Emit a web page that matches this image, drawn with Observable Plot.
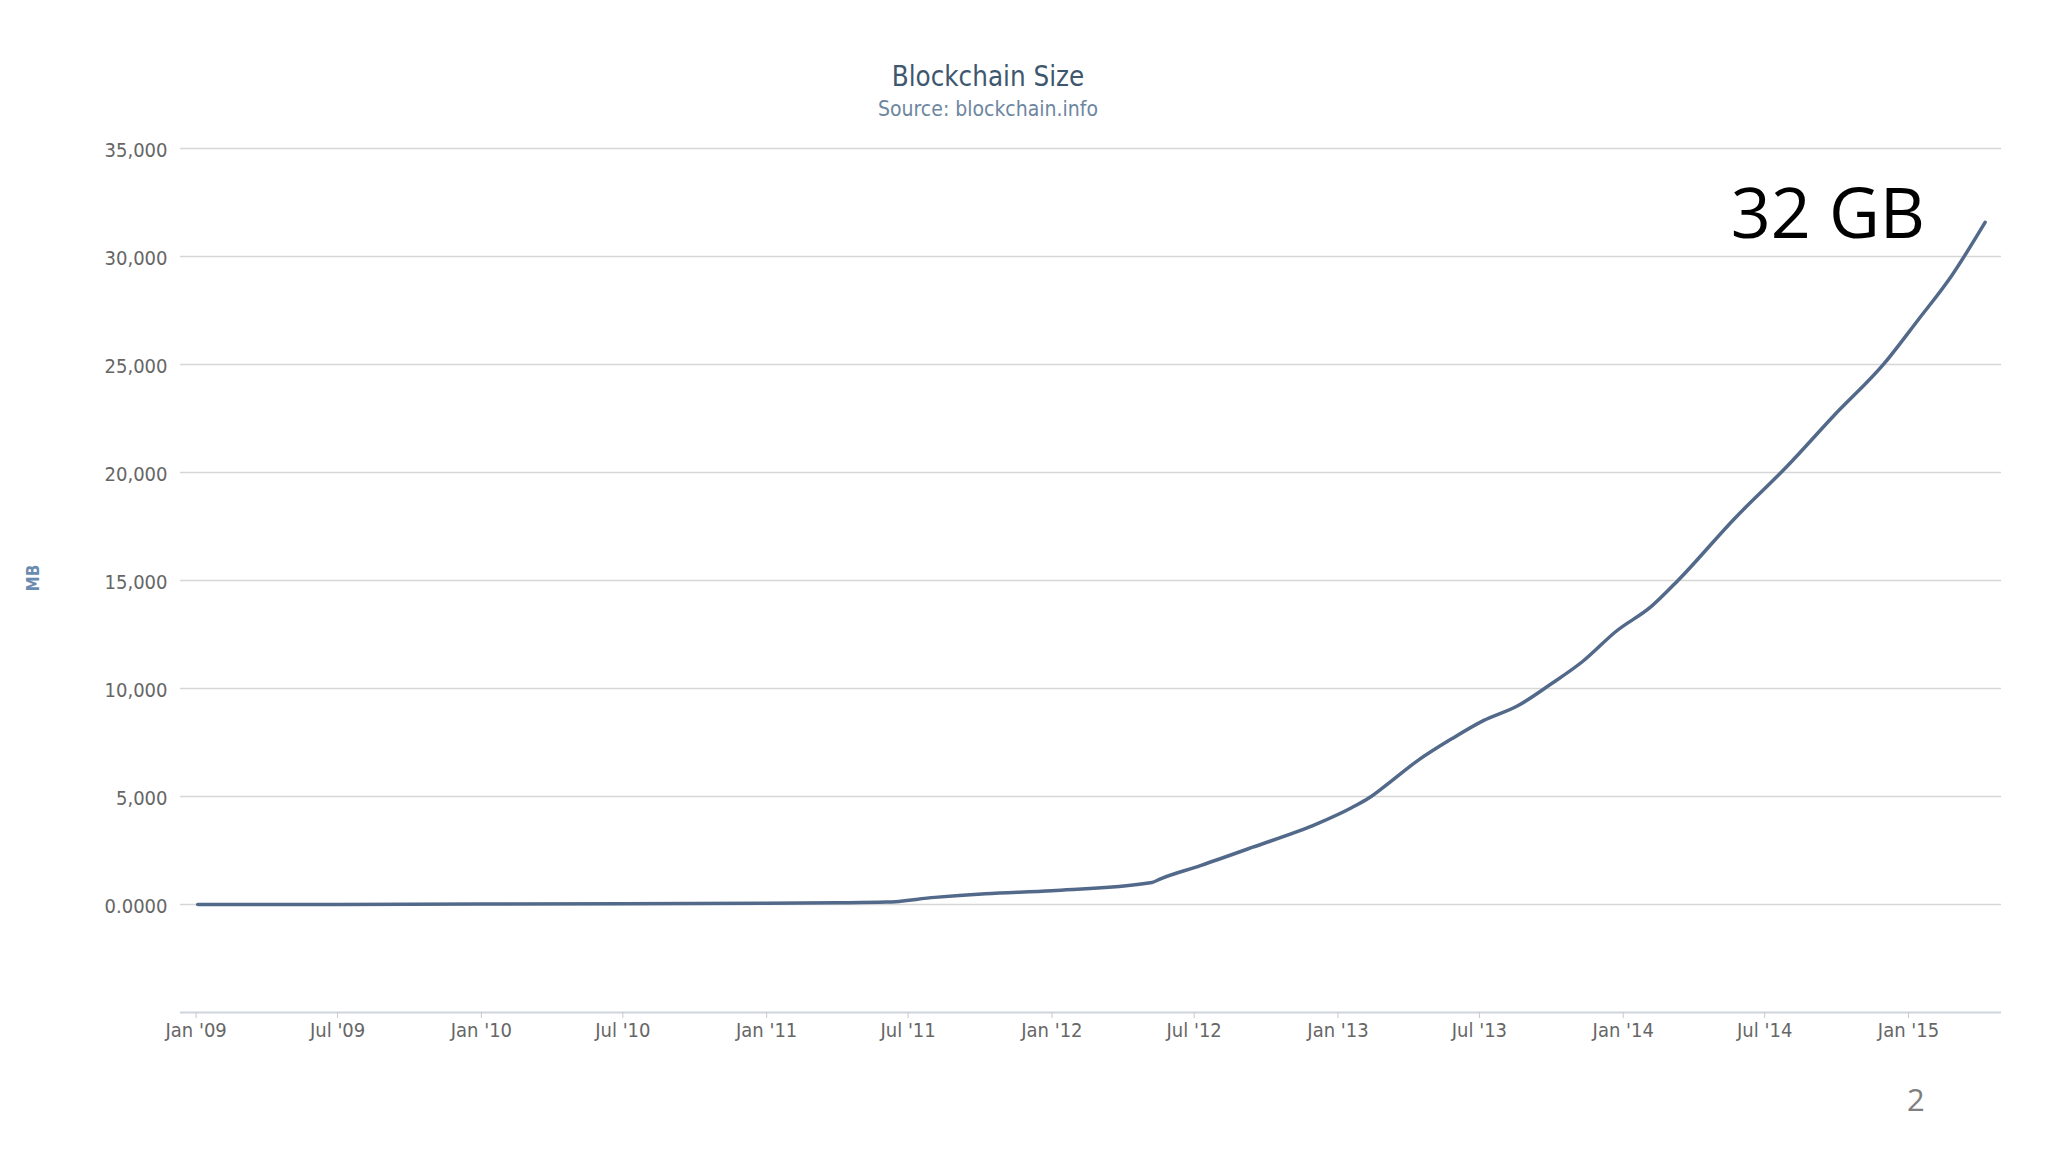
<!DOCTYPE html>
<html>
<head>
<meta charset="utf-8">
<script src="https://cdn.jsdelivr.net/npm/d3@7"></script>
<script src="https://cdn.jsdelivr.net/npm/@observablehq/plot@0.6"></script>
<style>
  html, body { margin: 0; padding: 0; background: #fff; }
  #wrap { position: relative; width: 2048px; height: 1152px; overflow: hidden; background: #fff; }
  .cond { font-family: "DejaVu Sans Condensed", "DejaVu Sans", sans-serif; font-stretch: condensed; }
  #title { position: absolute; left: 738px; width: 500px; top: 60px; text-align: center; font-size: 27.5px; color: #3e576f; line-height: 32px; }
  #subtitle { position: absolute; left: 738px; width: 500px; top: 96px; text-align: center; font-size: 21px; color: #6d869f; line-height: 26px; }
  #ylabel { position: absolute; left: 33px; top: 578px; transform: translate(-50%, -50%) rotate(-90deg); font-size: 17px; font-weight: bold; color: #6a8bb0; white-space: nowrap; }
  #page { position: absolute; left: 1907px; top: 1078px; font-family: "Open Sans", sans-serif; font-size: 31px; color: #7f7f7f; }
  #chart { position: absolute; left: 0; top: 130px; }
  #chart svg { font-stretch: condensed; }
  #chart svg g[aria-label="text"] { font-stretch: normal; }
</style>
</head>
<body>
<div id="wrap">
  <div id="title" class="cond">Blockchain Size</div>
  <div id="subtitle" class="cond">Source: blockchain.info</div>
  <div id="ylabel" class="cond">MB</div>
  <div id="chart"></div>
  <div id="page">2</div>
</div>
<script>
// Blockchain size (MB)
const dates = [
  "2009-01-03", "2009-07-01", "2010-01-01", "2010-07-01", "2011-01-01", "2011-04-01",
  "2011-06-03", "2011-08-04", "2011-10-08", "2012-01-01", "2012-05-08", "2012-05-19",
  "2012-07-09", "2012-09-13", "2012-12-05", "2013-01-19", "2013-02-10", "2013-02-28",
  "2013-04-13", "2013-05-27", "2013-07-06", "2013-08-19", "2013-10-01", "2013-11-10",
  "2013-12-23", "2014-02-06", "2014-03-12", "2014-05-23", "2014-07-30", "2014-09-28",
  "2014-12-01", "2015-01-13", "2015-02-25", "2015-04-09"
];
const sizesMB = [
  0, 5, 20, 40, 60, 80,
  110, 330, 500, 640, 1020, 1190,
  1800, 2640, 3730, 4490, 4940, 5420,
  6660, 7680, 8510, 9200, 10220, 11250,
  12650, 13800, 15000, 17850, 20300, 22650,
  25050, 27050, 29100, 31580
];
const yTicks = [0, 5000, 10000, 15000, 20000, 25000, 30000, 35000];
const yTickLabels = ["0.0000", "5,000", "10,000", "15,000", "20,000", "25,000", "30,000", "35,000"];
const xTicks = [
  "2009-01-01", "2009-07-01", "2010-01-01", "2010-07-01", "2011-01-01", "2011-07-01",
  "2012-01-01", "2012-07-01", "2013-01-01", "2013-07-01", "2014-01-01", "2014-07-01", "2015-01-01"
];
const xTickLabels = [
  "Jan '09", "Jul '09", "Jan '10", "Jul '10", "Jan '11", "Jul '11",
  "Jan '12", "Jul '12", "Jan '13", "Jul '13", "Jan '14", "Jul '14", "Jan '15"
];
const annotation = "32 GB";

const data = dates.map((d, i) => ({date: new Date(d), mb: sizesMB[i]}));
const xTickDates = xTicks.map(d => new Date(d));
const xLabelMap = new Map(xTickDates.map((d, i) => [+d, xTickLabels[i]]));
const yLabelMap = new Map(yTicks.map((v, i) => [v, yTickLabels[i]]));

const font = '"DejaVu Sans Condensed", "DejaVu Sans", sans-serif';

const chart = Plot.plot({
  width: 2048,
  height: 1022,
  marginLeft: 180,
  marginRight: 47,
  marginTop: 18,
  marginBottom: 140,
  style: {fontFamily: font, fontSize: "20px", color: "#666", background: "transparent"},
  x: {type: "utc", domain: [new Date("2008-12-12"), new Date("2015-04-30")]},
  y: {domain: [-5000, 35000]},
  marks: [
    Plot.ruleY(yTicks, {stroke: "#d6d6d6", strokeWidth: 1.5}),
    Plot.ruleY([-5000], {stroke: "#cdd5de", strokeWidth: 2}),
    Plot.axisY({ticks: yTicks, tickFormat: v => yLabelMap.get(v), tickSize: 0, tickPadding: 13, dy: 2, label: null, fill: "#666"}),
    Plot.axisX({ticks: xTickDates, tickFormat: d => xLabelMap.get(+d), tickSize: 6, tickPadding: 4, label: null, stroke: "#c8c8c8", fill: "#666"}),
    Plot.line(data, {x: "date", y: "mb", stroke: "#52698a", strokeWidth: 3.5, curve: "monotone-x"}),
    Plot.text([data[data.length - 1]], {
      x: "date", y: "mb", text: () => annotation,
      textAnchor: "end", dx: -60, dy: -7,
      fontSize: 70, fill: "#000", fontFamily: '"Open Sans", sans-serif'
    })
  ]
});
document.getElementById("chart").appendChild(chart);
</script>
</body>
</html>
